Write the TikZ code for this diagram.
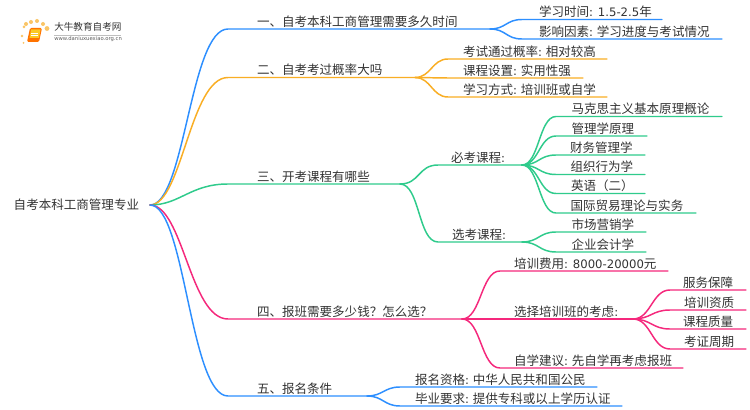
\documentclass[tikz,border=0pt]{standalone}
\usepackage{fontspec}
\setmainfont{Noto Sans CJK SC}
\newfontfamily\lat[Scale=0.93]{DejaVu Sans}
\definecolor{cblue}{HTML}{2D8FFF}
\definecolor{corange}{HTML}{F9AE24}
\definecolor{cgreen}{HTML}{2FCB8C}
\definecolor{cpink}{HTML}{F5287C}
\definecolor{ctext}{HTML}{333333}
\definecolor{clogo}{HTML}{F9B233}
\tikzset{
  leaf/.style={inner sep=0pt,outer sep=0pt,anchor=south west,text=ctext,font=\fontsize{9.4pt}{11pt}\selectfont},
  conn/.style={line width=1.1pt,line cap=round,line join=round},
  dot/.style={circle,inner sep=0pt,fill=clogo}
}
% name, x0, x1, y, text x, text
\newcommand\leafnode[6]{%
  \pgfmathsetlengthmacro\lnw{(#3-#2)*0.75pt}%
  \pgfmathsetlengthmacro\lni{(#5-#2)*0.75pt}%
  \node[leaf] (#1) at (#2,#4) {\makebox[\lnw][l]{\rule[-2pt]{0pt}{9.5pt}\hspace*{\lni}#6}};}
% colour, parent anchor, child, c1, c2
\newcommand\linkto[5]{\draw[conn,#1] (#2) .. controls +(#4,0) and +(-#5,0) .. (#3.south west) -- (#3.south east);}
\begin{document}
\begin{tikzpicture}[x=0.75pt,y=-0.75pt]
\useasboundingbox[fill=white] (0,0) rectangle (750,410);
% logo
\foreach \a/\b/\r in {24/27/1.5,22/36/1.3,23.5/43/1,26/24/2,31/22/2,37/21/2,43/24/2,47/28.5/2.4}
  \fill[clogo,opacity=.75] (\a,\b) circle (\r);
\fill[rounded corners=1,orange!90!red] (27,42) -- (30,28) -- (42,28) -- (39,42) -- cycle;
\fill[clogo!70!yellow] (29.5,38) -- (31,29.5) -- (40.5,29.5) -- (39,38) -- cycle;
\draw[white,line width=.3pt] (31,33) -- (38,33) (30.6,35) -- (37.6,35);
\node[inner sep=0pt,anchor=west,text=ctext,font=\fontsize{7.2pt}{8pt}\selectfont] (logot) at (54,27) {大牛教育自考网};
\node[inner sep=0pt,anchor=west,text=ctext!80,font=\lat\fontsize{4.25pt}{5pt}\selectfont] (logou) at (54,39) {www.daniuxuexiao.org.cn};
\draw[black!25,line width=.4pt] (logot.south west)++(0,4) -- ++(67,0);
% root
\pgfmathsetlengthmacro\lnw{136*0.75pt}
\node[inner sep=0pt,text=ctext,anchor=east,font=\fontsize{9.4pt}{11pt}\selectfont] (root) at (150,205) {\makebox[\lnw][l]{自考本科工商管理专业}};
% level 1
\leafnode{a}{228}{490}{29}{257}{一、自考本科工商管理需要多久时间}
\leafnode{b}{228}{415}{77.5}{257}{二、自考考过概率大吗}
\leafnode{c}{228}{400}{184}{257}{三、开考课程有哪些}
\leafnode{d}{228}{462}{319}{257}{四、报班需要多少钱？怎么选？}
\leafnode{e}{228}{367}{396}{257}{五、报名条件}
\linkto{cblue}{root.east}{a}{35}{38}
\linkto{corange}{root.east}{b}{32}{38}
\linkto{cgreen}{root.east}{c}{30}{38}
\linkto{cpink}{root.east}{d}{33}{38}
\linkto{cblue}{root.east}{e}{35}{38}
% branch 1
\leafnode{a1}{522}{662}{19.5}{539}{学习时间{\lat: 1.5-2.5}年}
\leafnode{a2}{522}{722}{39}{539}{影响因素{\lat:} 学习进度与考试情况}
\linkto{cblue}{a.south east}{a1}{16}{16}
\linkto{cblue}{a.south east}{a2}{16}{16}
% branch 2
\leafnode{b1}{448}{607}{59}{463}{考试通过概率{\lat:} 相对较高}
\leafnode{b2}{448}{583}{78}{463}{课程设置{\lat:} 实用性强}
\leafnode{b3}{448}{607}{97}{463}{学习方式{\lat:} 培训班或自学}
\linkto{corange}{b.south east}{b1}{16}{16}
\linkto{corange}{b.south east}{b2}{16}{16}
\linkto{corange}{b.south east}{b3}{16}{16}
% branch 3
\leafnode{c1}{438}{522}{165}{451}{必考课程{\lat:}}
\leafnode{c2}{438}{522}{242}{452}{选考课程{\lat:}}
\linkto{cgreen}{c.south east}{c1}{20}{20}
\linkto{cgreen}{c.south east}{c2}{20}{20}
\leafnode{c11}{556}{722}{116.5}{571.5}{马克思主义基本原理概论}
\leafnode{c12}{556}{647}{136}{571.5}{管理学原理}
\leafnode{c13}{556}{645}{155}{570}{财务管理学}
\leafnode{c14}{556}{645}{174.5}{570.5}{组织行为学}
\leafnode{c15}{556}{645}{193.5}{571}{英语（二）}
\leafnode{c16}{556}{696}{213}{570.5}{国际贸易理论与实务}
\foreach \n in {c11,c12,c13,c14,c15,c16} {\linkto{cgreen}{c1.south east}{\n}{17}{17}}
\leafnode{c21}{556}{646}{232}{571.5}{市场营销学}
\leafnode{c22}{556}{646}{252}{571.5}{企业会计学}
\foreach \n in {c21,c22} {\linkto{cgreen}{c2.south east}{\n}{17}{17}}
% branch 4
\leafnode{d1}{500}{668}{271}{514}{培训费用{\lat: 8000-20000}元}
\leafnode{d2}{500}{633}{319}{514}{选择培训班的考虑{\lat:}}
\leafnode{d3}{500}{683}{368}{514}{自学建议{\lat:} 先自学再考虑报班}
\foreach \n in {d1,d2,d3} {\linkto{cpink}{d.south east}{\n}{19}{19}}
\leafnode{d21}{670}{746}{290}{683}{服务保障}
\leafnode{d22}{670}{746}{310}{684}{培训资质}
\leafnode{d23}{670}{746}{329}{683}{课程质量}
\leafnode{d24}{670}{746}{349}{684}{考证周期}
\foreach \n in {d21,d22,d23,d24} {\linkto{cpink}{d2.south east}{\n}{18}{18}}
% branch 5
\leafnode{e1}{400}{597}{387}{415}{报名资格{\lat:} 中华人民共和国公民}
\leafnode{e2}{400}{622}{406}{415}{毕业要求{\lat:} 提供专科或以上学历认证}
\foreach \n in {e1,e2} {\linkto{cblue}{e.south east}{\n}{16}{16}}
\end{tikzpicture}
\end{document}
